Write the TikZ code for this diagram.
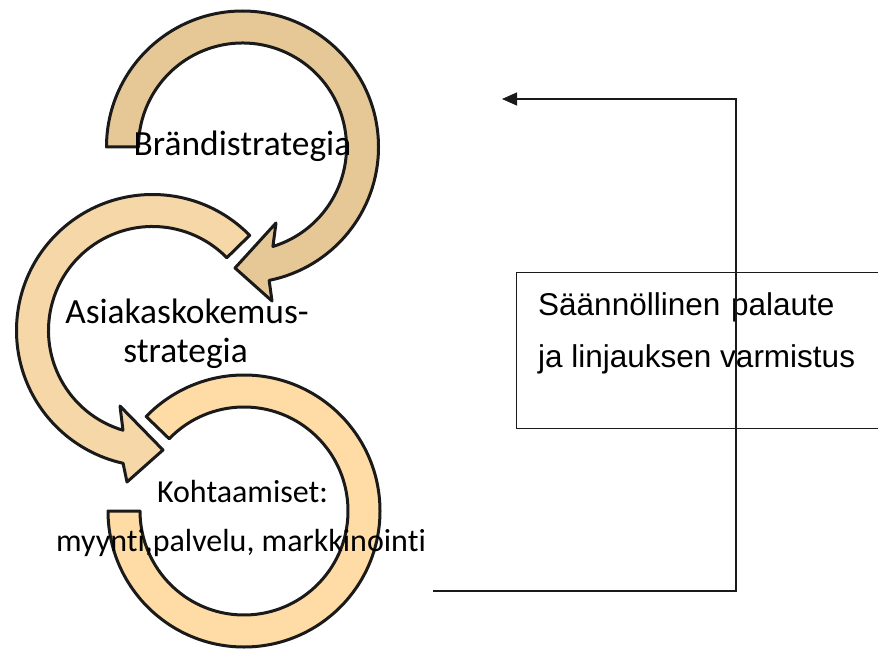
\documentclass[tikz,border=0pt]{standalone}
\usepackage{fontspec}
\newfontfamily\carl[Ligatures=NoCommon]{Carlito}
\newfontfamily\arl{Liberation Sans}
\usetikzlibrary{arrows.meta}
\definecolor{ringA}{RGB}{230,200,150}
\definecolor{ringB}{RGB}{245,215,168}
\definecolor{ringC}{RGB}{255,220,165}
\definecolor{inkline}{RGB}{26,26,26}
\tikzset{
  ring/.style={draw=inkline, line width=3pt, line join=round},
  ctext/.style={font=\carl\fontsize{35.4}{40}\selectfont, inner sep=0pt, anchor=base},
  ctextsmall/.style={font=\carl\fontsize{32}{38}\selectfont, inner sep=0pt, anchor=base},
  btext/.style={font=\arl\fontsize{31.5}{38}\selectfont, inner sep=0pt, anchor=base west},
  fbline/.style={draw=inkline, line width=1.3pt},
}
\begin{document}
\begin{tikzpicture}[x=1pt,y=1pt]
\useasboundingbox (0,0) rectangle (878,-650);
% circle 1 : Brändistrategia
\begin{scope}[shift={(242.5,-147)}]
  \path[ring, fill=ringA] (180:136pt) arc[start angle=180, end angle=-78.7, radius=136pt]
     -- (29.5,-154) -- (-7.5,-121) -- (33.5,-76) -- (-73:104pt)
     arc[start angle=-73, end angle=180, radius=104pt] -- cycle;
\end{scope}
% circle 2 : Asiakaskokemus-strategia
\begin{scope}[shift={(152.5,-330.5)}]
  \path[ring, fill=ringB] (44.4:136pt) arc[start angle=44.4, end angle=257.5, radius=136pt]
     -- (-25.5,-151.5) -- (10.5,-119.5) -- (-32.5,-75.5) -- (253.5:104pt)
     arc[start angle=253.5, end angle=44.4, radius=104pt] -- cycle;
\end{scope}
% circle 3 : Kohtaamiset
\begin{scope}[shift={(244,-511)}]
  \path[ring, fill=ringC] (180:136pt) arc[start angle=180, end angle=496, radius=136pt]
     -- (496:104pt) arc[start angle=496, end angle=180, radius=104pt] -- cycle;
\end{scope}
% texts
\node[ctext] (brand) at (242.5,-156) {Brändistrategia};
\node[ctext] (cx1) at (187,-323) {Asiakaskokemus-};
\node[ctext] (cx2) at (185.5,-362) {strategia};
\node[ctextsmall] (meet1) at (242.5,-502) {Kohtaamiset:};
\node[ctextsmall] (meet2) at (241,-551) {myynti,palvelu, markkinointi};
% feedback box
\node[draw=inkline, line width=1.2pt, minimum width=370pt, minimum height=156pt, anchor=north west, inner sep=0pt] (fbox) at (516,-272) {};
\node[btext] (fb1) at (538,-315) {Säännöllinen\hspace{2pt} palaute};
\node[btext] (fb2) at (538,-367) {ja linjauksen varmistus};
% feedback connector
\coordinate (fbstart) at (433,-591);
\coordinate (fbcorner) at (736,-99);
\coordinate (fbend) at (502,-99);
\draw[fbline, -{Triangle[length=15pt,width=13pt]}] (fbstart) -| (fbcorner) -- (fbend);
\end{tikzpicture}
\end{document}
